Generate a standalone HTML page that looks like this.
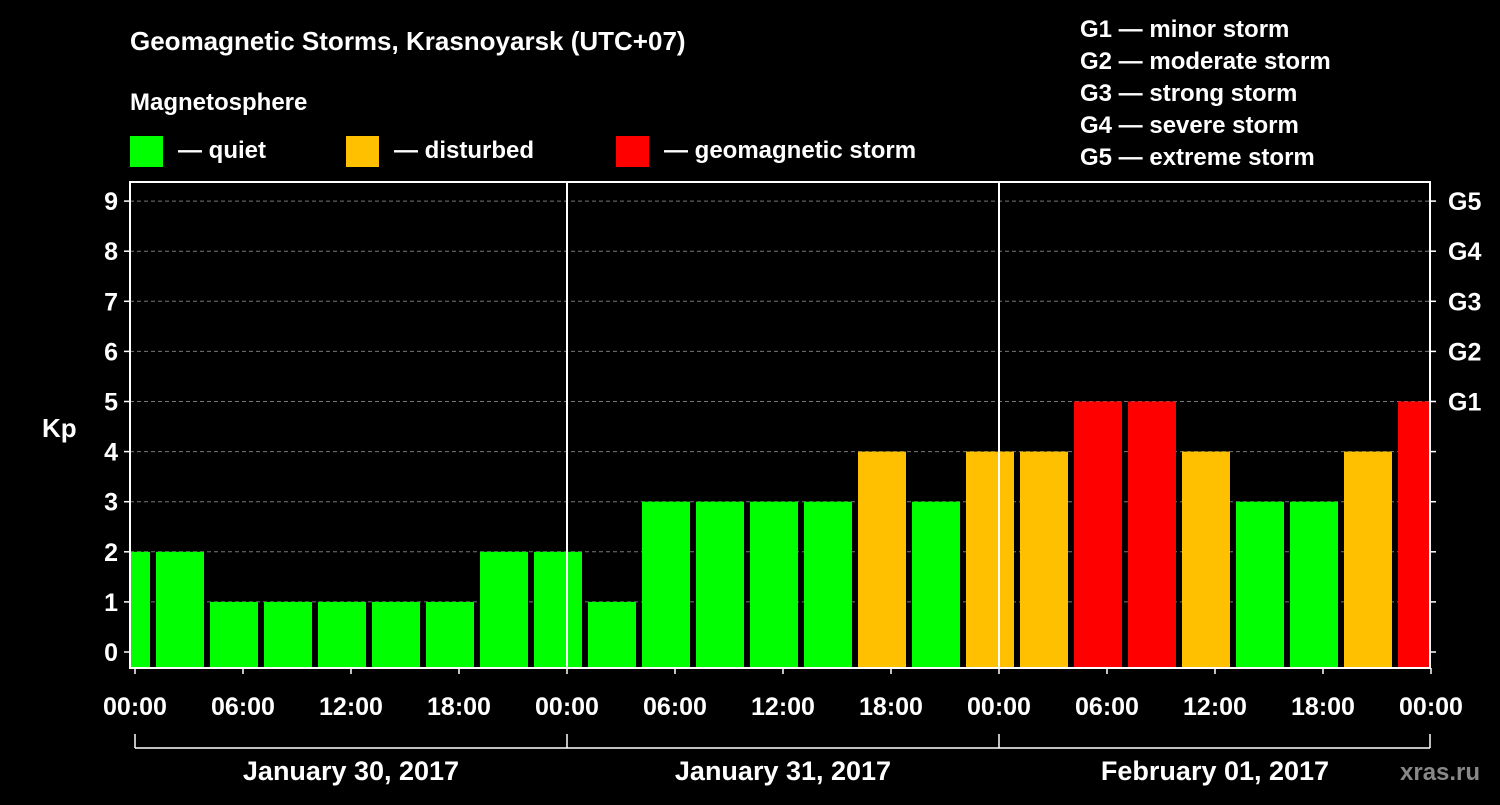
<!DOCTYPE html>
<html><head><meta charset="utf-8"><style>
body{margin:0;background:#000;width:1500px;height:800px;overflow:hidden}
svg text{font-family:"Liberation Sans",Arial,sans-serif;font-weight:bold;fill:#fff}
</style></head><body>
<svg id="c" width="1500" height="800" xmlns="http://www.w3.org/2000/svg">
<text x="130" y="50" font-size="26">Geomagnetic Storms, Krasnoyarsk (UTC+07)</text>
<text x="130" y="110" font-size="24">Magnetosphere</text>
<rect x="130" y="136" width="33" height="31" fill="#00ff00"/>
<text x="178" y="158" font-size="24">— quiet</text>
<rect x="346" y="136" width="33" height="31" fill="#ffc000"/>
<text x="394" y="158" font-size="24">— disturbed</text>
<rect x="616" y="136" width="33" height="31" fill="#ff0000"/>
<text x="664" y="158" font-size="24">— geomagnetic storm</text>
<g font-size="24">
<text x="1080" y="37">G1 — minor storm</text>
<text x="1080" y="69">G2 — moderate storm</text>
<text x="1080" y="101">G3 — strong storm</text>
<text x="1080" y="133">G4 — severe storm</text>
<text x="1080" y="165">G5 — extreme storm</text>
</g>
<text x="42" y="437" font-size="26">Kp</text>
<text x="1400" y="780" font-size="24" fill="#888" style="fill:#888">xras.ru</text>
<g id="plot"></g>
</svg>
<script>
const kpValues=[2,2,1,1,1,1,1,2,2,1,3,3,3,3,4,3,4,4,5,5,4,3,3,4,5];
const yTicks=[0,1,2,3,4,5,6,7,8,9];
const gLabels=["G1","G2","G3","G4","G5"];
const xTickLabels=["00:00","06:00","12:00","18:00","00:00","06:00","12:00","18:00","00:00","06:00","12:00","18:00","00:00"];
const dayLabels=["January 30, 2017","January 31, 2017","February 01, 2017"];
const NS="http://www.w3.org/2000/svg";
const g=document.getElementById('plot');
const L=130,R=1430,T=182,B=668,X0=135,PXH=18;
const x=h=>X0+h*PXH;
const y=k=>652-50.1*k;
function mk(t,a,p){const e=document.createElementNS(NS,t);for(const k in a)e.setAttribute(k,a[k]);(p||g).appendChild(e);return e;}
const clip=mk('clipPath',{id:'cp'});mk('rect',{x:L,y:T,width:R-L,height:B-T},clip);
yTicks.forEach(k=>{
 if(k>0){const l=mk('line',{x1:L,x2:R,y1:y(k),y2:y(k),stroke:'#777','stroke-dasharray':'4,3'});
 
 }
 const t=mk('text',{x:L-12,y:y(k)+9,'font-size':'25','text-anchor':'end'});t.textContent=k;
 
 
 mk('line',{x1:L-6,x2:L,y1:y(k),y2:y(k),stroke:'#fff','stroke-width':1.5});
 mk('line',{x1:R,x2:R+6,y1:y(k),y2:y(k),stroke:'#fff','stroke-width':1.5});
});
gLabels.forEach((s,i)=>{const t=mk('text',{x:R+18,y:y(5+i)+9,'font-size':'25'});t.textContent=s;
 
 });
const bg=mk('g',{'clip-path':'url(#cp)'});
kpValues.forEach((v,i)=>{
 const h0=-2+3*i;
 const c=v>=5?'#ff0000':v>=4?'#ffc000':'#00ff00';
 const r=mk('rect',{x:x(h0)+3,y:y(v),width:3*PXH-6,height:B-y(v),fill:c},bg);
 
 
});
[1,2].forEach(d=>{const l=mk('line',{x1:x(24*d),x2:x(24*d),y1:T,y2:B,stroke:'#fff','stroke-width':2});
 
 });
const f=mk('rect',{x:L,y:T,width:R-L,height:B-T,fill:'none',stroke:'#fff','stroke-width':2});


xTickLabels.forEach((s,i)=>{
 mk('line',{x1:x(6*i),x2:x(6*i),y1:B,y2:B+6,stroke:'#fff','stroke-width':1.5});
 const t=mk('text',{x:x(6*i),y:715,'font-size':'25','text-anchor':'middle'});t.textContent=s;
 
 
});
mk('line',{x1:x(0),x2:R,y1:748,y2:748,stroke:'#fff','stroke-width':1.5});
[0,1,2,3].forEach(d=>mk('line',{x1:Math.min(x(24*d),R),x2:Math.min(x(24*d),R),y1:734,y2:748,stroke:'#fff','stroke-width':1.5}));
dayLabels.forEach((s,i)=>{const t=mk('text',{x:x(24*i+12),y:780,'font-size':'27','text-anchor':'middle'});t.textContent=s;
 
 });
</script>
</body></html>
